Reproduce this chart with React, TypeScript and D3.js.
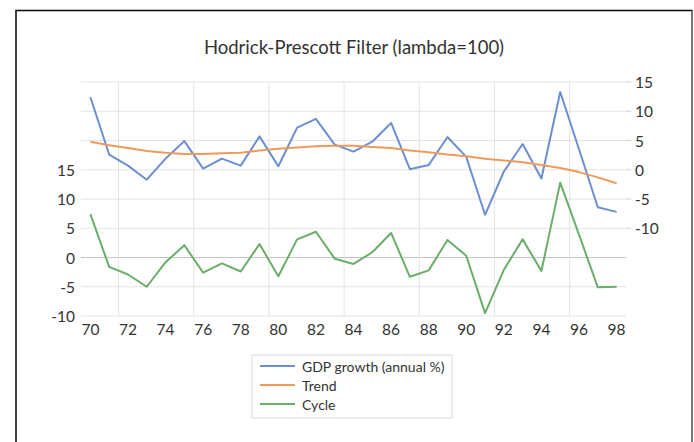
import * as React from "react";
import * as d3 from "d3";

// years 1970..1998 (labels shown as two digits)
const years = d3.range(70, 99);
const gdp = [12.4, 2.6, 0.7, -1.7, 1.9, 4.9, 0.2, 1.9, 0.7, 5.7, 0.6, 7.2, 8.7, 4.3, 3.1, 4.8, 8.0, 0.1, 0.8, 5.6, 2.2, -7.7, -0.3, 4.4, -1.5, 13.3, 3.5, -6.4, -7.2];
const trend = [4.8, 4.2, 3.7, 3.2, 2.9, 2.7, 2.7, 2.8, 2.9, 3.3, 3.6, 3.8, 4.0, 4.1, 4.1, 3.9, 3.7, 3.3, 3.0, 2.6, 2.3, 1.9, 1.6, 1.3, 0.8, 0.3, -0.4, -1.3, -2.3];
const cycle = [7.4, -1.6, -2.9, -5.0, -0.8, 2.1, -2.6, -1.0, -2.4, 2.3, -3.2, 3.1, 4.4, -0.2, -1.1, 0.9, 4.2, -3.3, -2.2, 3.0, 0.3, -9.5, -2.1, 3.1, -2.3, 12.8, 3.9, -5.1, -5.0];
const xTicks = d3.range(70, 99, 2);
const yTicks = [-10, -5, 0, 5, 10, 15];
const gridVals = d3.range(-10, 31, 5);
const vGrid = [71.5, 75.5, 79.5, 83.5, 87.5, 91.5, 95.5];

const series = [
  { name: "GDP growth (annual %)", values: gdp, color: "#6b8fd0", axis: "right" },
  { name: "Trend", values: trend, color: "#ef9b5c", axis: "right" },
  { name: "Cycle", values: cycle, color: "#6aae6a", axis: "left" },
];

const FONT = "Lato, 'Open Sans', sans-serif";
const TXT = "#333";

export default function App() {
  const x = d3.scaleLinear().domain([69.5, 98.5]).range([81, 626]);
  const yL = d3.scaleLinear().domain([-10, 30]).range([316, 82]);
  const yR = d3.scaleLinear().domain([-25, 15]).range([316, 82]);

  const makeLine = (s: any) =>
    d3
      .line<number>()
      .x((_, i) => x(years[i]))
      .y((d) => (s.axis === "left" ? yL(d) : yR(d)))(s.values) as string;

  return (
    <svg
      width={694}
      height={442}
      style={{ position: "absolute", left: 0, top: 0, background: "#fff" }}
      fontFamily={FONT}
    >
      <rect x={16} y={10.5} width={676} height={440} fill="#fff" stroke="#111" strokeWidth={1.6} />
      <line x1={692} x2={692} y1={10.5} y2={442} stroke="#777" strokeWidth={2} />

      <text x={354} y={47} textAnchor="middle" dominantBaseline="central" fontSize={18.5} fill={TXT}>
        Hodrick-Prescott Filter (lambda=100)
      </text>

      {/* gridlines */}
      {gridVals.map((v) => (
        <line key={"h" + v} x1={81} x2={626} y1={yL(v)} y2={yL(v)} stroke={v === 0 ? "#c4c4c4" : "#e3e3e3"} strokeWidth={1} />
      ))}
      {vGrid.map((v) => (
        <line key={"v" + v} x1={x(v)} x2={x(v)} y1={82} y2={316} stroke="#e3e3e3" strokeWidth={1} />
      ))}

      {/* left axis */}
      {yTicks.map((v) => (
        <text key={"l" + v} x={75} y={yL(v)} textAnchor="end" dominantBaseline="central" fontSize={15.5} fill={TXT}>
          {v}
        </text>
      ))}
      {/* right axis */}
      {yTicks.map((v) => (
        <g key={"r" + v}>
          <line x1={626} x2={631} y1={yR(v)} y2={yR(v)} stroke="#d0d0d0" />
          <text x={635} y={yR(v)} textAnchor="start" dominantBaseline="central" fontSize={15.5} fill={TXT}>
            {v}
          </text>
        </g>
      ))}
      {/* x axis labels */}
      {xTicks.map((v) => (
        <text key={"x" + v} x={x(v)} y={329} textAnchor="middle" dominantBaseline="central" fontSize={15.5} fill={TXT}>
          {v}
        </text>
      ))}

      {series.map((s) => (
        <path key={s.name} d={makeLine(s)} fill="none" stroke={s.color} strokeWidth={2} strokeLinejoin="round" />
      ))}

      {/* legend */}
      <rect x={252} y={355} width={200} height={63} fill="#fff" stroke="#d9d9d9" />
      {series.map((s, i) => (
        <g key={"lg" + i} transform={`translate(0,${366 + i * 19})`}>
          <line x1={260} x2={295} y1={0} y2={0} stroke={s.color} strokeWidth={2} />
          <text x={302} y={0} dominantBaseline="central" fontSize={14} fill={TXT}>
            {s.name}
          </text>
        </g>
      ))}
    </svg>
  );
}
